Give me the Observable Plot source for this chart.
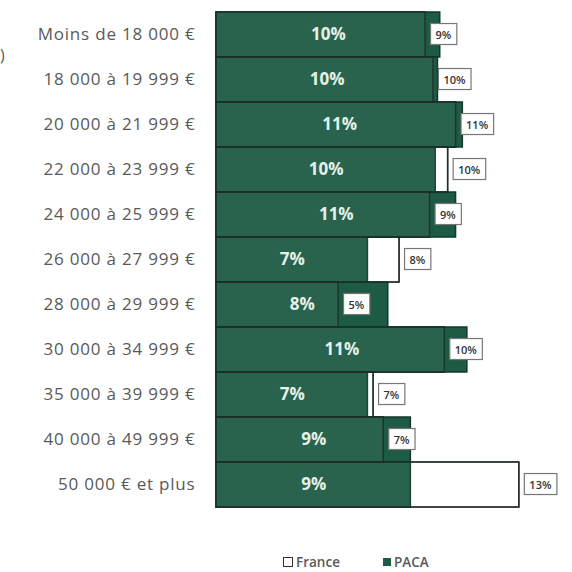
<!DOCTYPE html>
<html>
<head>
<meta charset="utf-8">
<script src="https://cdn.jsdelivr.net/npm/d3@7"></script>
<script src="https://cdn.jsdelivr.net/npm/@observablehq/plot@0.6"></script>
<style>
  html, body { margin: 0; padding: 0; background: #fff; }
  #wrap { width: 572px; height: 572px; position: relative; overflow: hidden; font-family: "Open Sans", Lato, sans-serif; }
  #chart { position: absolute; top: 0; left: 0; }
  #chart g[aria-label="y-axis tick label"] text { letter-spacing: 0.8px; }
  #legend { position: absolute; top: 553px; left: 0; width: 572px; height: 22px; font-size: 13.5px; font-weight: 600; color: #595959; }
  .item { position: absolute; top: 0; display: flex; align-items: center; gap: 3px; }
  .sw { display: inline-block; width: 10px; height: 10px; box-sizing: border-box; }
  #stray { position: absolute; left: 0px; top: 44px; font-size: 16px; color: #595959; }
</style>
</head>
<body>
<div id="wrap">
  <div id="chart"></div>
  <div id="stray">)</div>
  <div id="legend">
    <div class="item" style="left:283px"><span class="sw" style="border:1.6px solid #333;background:#fff"></span><span>France</span></div>
    <div class="item" style="left:383px"><span class="sw" style="background:#1e5b44;width:8px;height:8px"></span><span>PACA</span></div>
  </div>
</div>
<script>
const categories = [
  "Moins de 18 000 €",
  "18 000 à 19 999 €",
  "20 000 à 21 999 €",
  "22 000 à 23 999 €",
  "24 000 à 25 999 €",
  "26 000 à 27 999 €",
  "28 000 à 29 999 €",
  "30 000 à 34 999 €",
  "35 000 à 39 999 €",
  "40 000 à 49 999 €",
  "50 000 € et plus"
];
const paca   = [9.9, 9.8, 10.9, 9.7, 10.6, 6.7, 7.6, 11.1, 6.7, 8.6, 8.6];
const france = [9.25, 9.6, 10.6, 10.25, 9.45, 8.1, 5.4, 10.1, 6.95, 7.4, 13.4];

const data = categories.map((c, i) => ({cat: c, paca: paca[i], france: france[i]}));
const pct = v => Math.round(v) + "%";

const green = "#1e5b44";

const chart = Plot.plot({
  width: 572,
  height: 520,
  marginTop: 10,
  marginBottom: 11,
  marginLeft: 216,
  marginRight: 17,
  style: {fontFamily: "'Open Sans', Lato, sans-serif", background: "#fff"},
  x: {domain: [0, 15], axis: null},
  y: {domain: categories, padding: 0, label: null, axis: null},
  marks: [
    Plot.axisY({tickSize: 0, tickPadding: 21, fontSize: 17, fontWeight: 500, fill: "#595959", label: null}),
    Plot.barX(data, {x: "france", y: "cat", fill: "#fff", stroke: "#333", strokeWidth: 1.5, inset: 0}),
    Plot.barX(data, {x: "paca", y: "cat", fill: green, stroke: "#12392a", strokeWidth: 1.5, inset: 0}),
    Plot.barX(data, {x: "france", y: "cat", fill: "#fff", fillOpacity: 0.05, stroke: "#1a2a22", strokeOpacity: 0.75, strokeWidth: 1.5, inset: 0}),
    Plot.text(data, {x: d => d.paca / 2, y: "cat", text: d => pct(d.paca), fill: "#e3f1e8", fontSize: 17, fontWeight: "bold"}),
    Plot.text(data, {x: "france", y: "cat", text: d => pct(d.france), textAnchor: "start", dx: 10, fill: "#333", fontSize: 11, fontWeight: 600})
  ]
});
document.getElementById("chart").appendChild(chart);

// boxes behind France labels
const textGroups = chart.querySelectorAll('g[aria-label="text"]');
const frG = textGroups[textGroups.length - 1];
frG.querySelectorAll("text").forEach(t => {
  const b = t.getBBox();
  const r = document.createElementNS("http://www.w3.org/2000/svg", "rect");
  r.setAttribute("x", b.x - 5);
  r.setAttribute("y", b.y - 3);
  r.setAttribute("width", b.width + 10);
  r.setAttribute("height", b.height + 6);
  r.setAttribute("fill", "#fff");
  r.setAttribute("stroke", "#777");
  r.setAttribute("stroke-width", 1.2);
  const tr = t.getAttribute("transform");
  if (tr) r.setAttribute("transform", tr);
  frG.insertBefore(r, t);
});
</script>
</body>
</html>
